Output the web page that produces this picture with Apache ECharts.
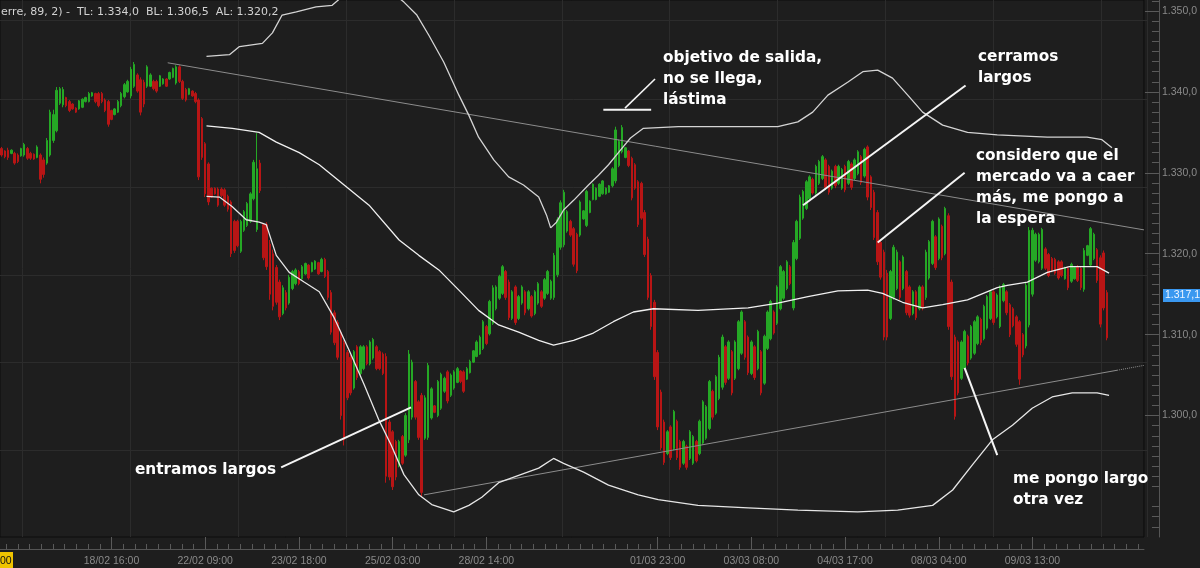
<!DOCTYPE html>
<html><head><meta charset="utf-8">
<script src="https://cdn.jsdelivr.net/npm/echarts@6/dist/echarts.min.js"></script>
<style>html,body{margin:0;padding:0;background:#1e1e1e;}#c{width:1200px;height:568px;}</style>
</head><body><div id="c"></div>
<script>
// Prices are stored in pips above BASE (1 pip = 0.0001)
const BASE = 1.28;
const SLOTS = 354; // bar slots on the time axis (last ones empty)
// [open, close, low, high]
const ohlc = [
[530,522,520,532],[527,520,518,528],[528,519,516,531],[524,528,523,529],[524,512,510,526],[522,514,512,524],[521,530,520,531],[522,535,520,537],[530,518,516,532],[524,518,516,526],
[523,517,516,524],[519,532,518,534],[522,492,487,524],[516,498,494,519],[512,540,510,543],[522,575,520,578],[540,572,537,578],[552,602,550,606],[586,604,584,606],[584,603,581,606],
[593,583,581,594],[588,577,575,590],[585,579,578,586],[580,575,574,581],[579,589,578,590],[581,591,580,592],[588,593,587,594],[588,598,587,600],[595,599,594,600],[598,588,586,599],
[598,583,581,600],[598,588,586,600],[590,577,575,592],[588,560,557,590],[577,566,565,578],[572,579,571,580],[575,588,574,590],[583,598,581,600],[594,609,592,611],[600,613,599,615],
[595,628,592,631],[607,634,605,637],[621,601,599,623],[615,575,571,618],[612,585,581,615],[607,631,605,633],[607,621,606,623],[613,604,602,615],[613,601,599,615],[607,620,606,621],
[610,616,609,617],[616,607,606,617],[616,624,615,625],[618,629,617,630],[611,631,609,633],[631,613,611,633],[613,592,590,615],[603,590,588,605],[597,604,596,605],[601,595,594,602],
[598,588,586,600],[590,495,491,592],[567,519,516,569],[536,474,470,538],[511,464,460,513],[481,470,469,482],[481,474,473,482],[480,460,458,482],[480,472,470,482],[479,460,458,481],
[471,455,452,473],[464,400,396,466],[440,404,401,442],[440,410,408,442],[403,440,401,442],[429,452,427,454],[435,462,433,464],[440,474,438,476],[468,513,466,516],[430,505,427,549],
[512,478,475,516],[436,395,392,438],[436,384,380,439],[412,350,343,417],[400,335,330,405],[383,340,337,386],[365,322,318,368],[326,358,324,361],[352,333,330,355],[339,371,337,374],
[357,378,355,380],[363,380,361,382],[378,363,361,380],[369,384,368,386],[375,388,374,389],[386,370,368,387],[378,389,377,390],[381,391,380,392],[389,375,374,390],[378,393,377,395],
[393,372,370,395],[378,346,343,380],[352,303,300,355],[327,290,287,330],[315,272,269,318],[303,200,195,306],[290,170,163,293],[278,222,219,281],[272,228,225,275],[234,279,232,281],
[285,247,244,287],[252,285,250,287],[258,285,256,287],[285,264,262,287],[264,291,262,293],[271,294,269,296],[285,258,256,287],[279,258,256,281],[276,252,250,278],[273,125,117,277],
[192,124,120,195],[180,112,108,182],[168,124,120,170],[138,168,136,170],[174,141,139,176],[151,200,149,203],[170,276,166,281],[198,266,195,269],[242,198,195,244],[217,173,170,219],
[225,105,99,228],[172,222,170,225],[173,262,170,265],[197,233,195,235],[212,204,203,213],[200,242,198,244],[209,251,207,253],[230,246,228,248],[254,218,215,256],[225,250,223,252],
[234,254,232,256],[241,258,240,260],[255,242,240,256],[254,230,228,256],[245,258,244,260],[253,267,252,269],[266,280,265,281],[273,291,272,293],[276,297,275,299],[283,316,281,318],
[310,289,287,312],[301,341,299,343],[314,358,312,361],[332,359,330,361],[345,372,343,374],[351,384,349,386],[378,346,343,380],[365,321,318,368],[320,353,318,355],[359,315,312,361],
[320,347,318,349],[339,359,337,361],[353,327,324,355],[332,353,330,355],[347,323,321,349],[326,353,324,355],[339,363,337,365],[353,335,333,355],[345,368,343,370],[351,378,349,380],
[345,366,343,368],[346,398,343,401],[374,442,371,445],[408,463,405,466],[411,476,408,479],[428,452,426,454],[440,423,421,442],[431,387,384,433],[424,379,376,426],[423,464,421,466],
[443,453,442,454],[435,477,433,479],[451,465,450,466],[467,486,466,487],[467,481,466,482],[471,486,470,487],[474,490,473,491],[474,481,473,482],[476,484,475,485],[484,505,482,507],
[490,553,487,557],[509,539,507,541],[526,556,524,559],[519,531,518,532],[527,509,507,528],[518,469,466,520],[510,481,479,512],[489,436,433,491],[487,444,442,489],[451,399,396,454],
[418,346,343,421],[373,310,306,376],[340,248,244,343],[278,186,182,281],[229,160,157,232],[192,142,139,195],[153,180,151,182],[186,148,145,188],[159,205,157,207],[193,148,145,195],
[168,136,133,170],[141,168,139,170],[162,136,133,164],[147,180,145,182],[141,174,139,176],[168,144,142,170],[153,193,151,195],[166,217,164,219],[172,211,170,213],[184,242,182,244],
[230,198,195,232],[203,248,201,250],[221,272,219,275],[235,297,232,300],[285,241,238,287],[246,291,244,293],[279,228,225,281],[246,291,244,293],[258,316,256,318],[277,328,275,330],
[316,272,269,318],[297,253,250,299],[252,291,250,293],[285,247,244,287],[258,304,256,306],[279,228,225,281],[240,298,238,300],[283,328,281,330],[295,341,293,343],[328,302,300,330],
[314,359,312,361],[332,384,330,386],[345,378,343,380],[357,390,355,392],[384,363,361,386],[333,414,330,417],[394,440,392,442],[419,470,417,473],[444,477,442,479],[456,489,454,491],
[468,495,466,497],[492,475,473,494],[475,508,473,510],[487,514,485,516],[493,520,491,522],[516,482,479,518],[508,476,473,510],[481,502,479,504],[508,484,481,510],[487,508,485,510],
[481,504,479,506],[508,479,476,510],[487,514,485,516],[511,482,479,513],[493,516,491,518],[499,526,497,528],[520,488,485,522],[496,529,494,531],[532,470,466,534],[495,457,454,497],
[476,420,417,479],[451,390,386,454],[414,371,368,417],[402,297,293,405],[376,297,293,380],[320,378,318,380],[346,408,343,411],[357,402,355,405],[390,346,343,392],[357,396,355,398],
[378,327,324,380],[359,324,321,361],[326,353,324,355],[353,321,318,355],[332,359,330,361],[359,333,330,361],[346,402,343,405],[370,415,368,417],[388,440,386,442],[421,383,380,423],
[394,443,392,445],[434,395,392,436],[400,456,398,458],[447,310,306,450],[365,248,244,368],[297,199,195,300],[291,228,225,293],[246,291,244,293],[258,304,256,306],[298,265,262,300],
[271,310,269,312],[277,316,275,318],[289,322,287,324],[319,290,287,321],[295,335,293,337],[308,347,306,349],[320,353,318,355],[353,315,312,355],[322,349,320,351],[310,358,308,361],
[342,362,340,364],[353,327,324,355],[337,300,297,339],[332,311,309,334],[322,288,285,324],[316,245,238,318],[300,275,272,302],[286,361,283,364],[312,429,309,433],[350,429,347,432],
[392,424,390,426],[390,424,388,426],[382,430,380,432],[406,382,380,408],[399,373,371,401],[394,379,377,396],[393,376,374,395],[390,370,368,392],[390,373,371,392],[369,383,368,384],
[382,358,355,384],[366,387,364,389],[369,383,368,384],[384,367,365,386],[382,358,355,384],[356,404,353,407],[398,410,397,411],[386,431,384,433],[394,424,392,426],[405,367,364,407],
[395,313,309,398],[401,333,330,404],[352,296,293,355]
];
// indicator bands: [bar slot, pips above BASE]
const upperBand = [[63.9,644],[71.0,646],[74.1,656],[81.2,660],[84.3,673],[87.3,695],[91.7,699],[97.8,705],[102.8,707],[106.5,720],[114.2,732],[120.4,726],[125.0,711],[129.0,695],[132.7,670],[137.3,637],[142.0,596],[145.1,571],[148.1,544],[152.8,516],[157.4,495],[162.0,485],[166.7,470],[169.1,448],[170.4,432],[172.2,439],[174.4,454],[177.5,466],[182.1,485],[185.2,497],[188.3,510],[192.0,528],[195.1,543],[199.1,555],[209.9,557],[222.2,557],[240.7,557],[246.9,563],[251.5,575],[256.2,596],[262.3,612],[267.0,625],[271.6,627],[276.2,617],[280.9,596],[285.5,575],[291.7,559],[299.4,550],[308.6,547],[324.1,544],[336.4,544],[341.0,541],[344.1,531]];
const midBand = [[63.9,558],[71.9,555],[80.2,550],[85.5,538],[92.6,525],[98.8,510],[106.5,485],[114.2,460],[123.5,417],[129.6,398],[135.8,380],[142.0,355],[148.1,330],[154.3,312],[160.5,303],[166.7,293],[171.3,287],[177.5,293],[183.6,302],[189.8,316],[196.0,328],[202.2,332],[216.0,330],[231.5,333],[240.7,339],[250.0,347],[259.3,354],[268.5,355],[273.1,351],[279.3,340],[285.5,333],[291.7,337],[299.4,343],[308.6,358],[311.7,361],[317.9,365],[324.1,377],[330.9,384],[339.5,384],[343.2,376]];
const lowBand = [[63.9,471],[67.9,470],[71.9,458],[76.2,442],[80.2,439],[82.4,436],[85.5,398],[89.5,377],[94.1,365],[98.8,353],[103.4,321],[108.0,281],[112.7,238],[117.3,194],[121.0,164],[125.0,127],[129.6,102],[133.6,90],[140.4,81],[145.1,89],[149.1,99],[154.3,117],[160.5,126],[166.7,135],[171.3,147],[174.4,141],[180.6,130],[188.3,114],[197.5,102],[203.7,96],[216.0,89],[231.5,86],[246.9,83],[265.4,81],[277.8,83],[288.6,89],[294.8,108],[300.9,139],[307.1,170],[313.3,188],[319.4,209],[325.6,223],[331.8,228],[339.5,228],[343.2,225]];
// drawn trend lines
const resistance = [[51.9,636],[354,429.5]];
const support = [[131.2,102],[345.7,256]];
const supportExt = [[345.7,256],[354,262]];
// annotation pointer lines
const pointerEntramos = [[87.0,136],[127.2,210]];
const pointerObjetivoBar = [[186.7,578],[201.5,578]];
const pointerObjetivo = [[193.4,580],[202.7,616]];
const pointerCerramos = [[248.5,460],[298.8,608]];
const pointerConsidero = [[271.6,414],[298.5,500]];
const pointerPongo = [[298.5,259],[308.6,151]];
// annotation texts
const noteEntramos = ['entramos largos'];
const noteObjetivo = ['objetivo de salida,','no se llega,','lástima'];
const noteCerramos = ['cerramos','largos'];
const noteConsidero = ['considero que el','mercado va a caer','más, me pongo a','la espera'];
const notePongo = ['me pongo largo','otra vez'];
// axes
const xLabelIdx = [34,63,92,121,150,203,232,261,290,319];
const xLabels = ['18/02 16:00','22/02 09:00','23/02 18:00','25/02 03:00','28/02 14:00','01/03 23:00','03/03 08:00','04/03 17:00','08/03 04:00','09/03 13:00'];
const yTicks = [1.30,1.31,1.32,1.33,1.34,1.35];
const yLabels = ['1.300,0','1.310,0','1.320,0','1.330,0','1.340,0','1.350,0'];
const headerText = 'erre, 89, 2) -  TL: 1.334,0  BL: 1.306,5  AL: 1.320,2';
const lastPriceText = '1.317,1';
const cursorTimeText = '00';

const p = v => +(BASE + v / 10000).toFixed(5);
const UP = '#25a825', DOWN = '#b81515';
const Y_MIN = 1.28499, Y_MAX = 1.35136;

const xMajor = xLabelIdx.map(i => i + 0.5);
const stepX = 29 / 8;
const xMinor = [];
for (let j = 1; xMajor[0] - j * stepX > 0; j++) xMinor.push(xMajor[0] - j * stepX);
xMajor.forEach((m, k) => {
  const next = k + 1 < xMajor.length ? xMajor[k + 1] - 0.5 : SLOTS;
  for (let j = 1; m + j * stepX < next; j++) xMinor.push(m + j * stepX);
});
const yMinor = [];
for (let k = -11; k <= 41; k++) { if (k % 8 !== 0) { const v = 1.30 + k * 0.00125; if (v > Y_MIN && v < Y_MAX) yMinor.push(+v.toFixed(6)); } }

const lbl = { fontFamily: '"Liberation Sans", Arial, sans-serif', fontSize: 10.5, color: '#8a8a8a' };
const noLine = { show: false, onZero: false };

function line(data, color, width, type, z) {
  return { type: 'line', xAxisIndex: 1, yAxisIndex: 0, data: data.map(d => [d[0], p(d[1])]),
    symbol: 'none', silent: true, z: z || 3, animation: false,
    lineStyle: { color: color, width: width, type: type || 'solid' } };
}
const noteFont = 'bold 15.3px "DejaVu Sans", sans-serif';
function note(lines, x, top) {
  return { type: 'text', x: x, y: top, z: 100, silent: true,
    style: { text: lines.join('\n'), font: noteFont, fill: '#ffffff', lineHeight: 21,
      verticalAlign: 'top', align: 'left', shadowColor: 'rgba(0,0,0,0.9)', shadowBlur: 2 } };
}

const chart = echarts.init(document.getElementById('c'), null, { renderer: 'canvas' });
chart.setOption({
  animation: false,
  backgroundColor: '#1e1e1e',
  grid: [
    { left: 0, right: 53, top: 0, bottom: 31, show: true, borderColor: '#0c0c0c', borderWidth: 1, backgroundColor: 'transparent' },
    { left: 0, right: 53, top: 20, bottom: 117.5 },
    { left: 22, right: 53, top: 0, bottom: 31 }
  ],
  xAxis: [
    { type: 'category', gridIndex: 0, data: Array.from({ length: SLOTS }, (_, i) => i), show: false, boundaryGap: true, axisLine: noLine },
    { type: 'value', gridIndex: 0, min: 0, max: SLOTS, position: 'bottom', offset: 12,
      axisLine: { show: true, onZero: false, lineStyle: { color: '#555555' } },
      axisTick: { show: true, inside: true, length: 5, customValues: xMinor, lineStyle: { color: '#5a5a5a' } },
      axisLabel: { show: false }, splitLine: { show: false } },
    { type: 'value', gridIndex: 0, min: 0, max: SLOTS, position: 'bottom', offset: 12,
      axisLine: noLine,
      axisTick: { show: true, inside: true, length: 12, customValues: xMajor, lineStyle: { color: '#5a5a5a' } },
      axisLabel: Object.assign({ show: true, margin: 7, customValues: xMajor,
        formatter: v => { const k = xMajor.findIndex(m => Math.abs(m - v) < 1e-6); return k >= 0 ? xLabels[k] : ''; } }, lbl),
      splitLine: { show: false } },
    { type: 'value', gridIndex: 1, min: 0, max: 1, axisLine: noLine, axisTick: { show: false }, axisLabel: { show: false }, splitLine: { show: false } },
    { type: 'value', gridIndex: 2, min: 0, max: 1125 / 107.95, interval: 1, axisLine: noLine, axisTick: { show: false }, axisLabel: { show: false },
      splitLine: { show: true, lineStyle: { color: '#2c2c2c', width: 1 } } }
  ],
  yAxis: [
    { type: 'value', gridIndex: 0, min: Y_MIN, max: Y_MAX, position: 'right', offset: 15,
      axisLine: { show: true, onZero: false, lineStyle: { color: '#555555' } },
      axisTick: { show: true, inside: true, length: 14, customValues: yTicks, lineStyle: { color: '#5a5a5a' } },
      axisLabel: Object.assign({ show: true, inside: false, margin: 3, customValues: yTicks,
        formatter: v => { const k = yTicks.findIndex(t => Math.abs(t - v) < 1e-6); return k >= 0 ? yLabels[k] : ''; } }, lbl),
      splitLine: { show: false } },
    { type: 'value', gridIndex: 0, min: Y_MIN, max: Y_MAX, position: 'right', offset: 15,
      axisLine: noLine,
      axisTick: { show: true, inside: true, length: 7, customValues: yMinor, lineStyle: { color: '#5a5a5a' } },
      axisLabel: { show: false }, splitLine: { show: false } },
    { type: 'value', gridIndex: 1, min: 0, max: 430.5 / 87.8, interval: 1, axisLine: noLine, axisTick: { show: false }, axisLabel: { show: false },
      splitLine: { show: true, lineStyle: { color: '#2c2c2c', width: 1 } } },
    { type: 'value', gridIndex: 2, min: 0, max: 1, axisLine: noLine, axisTick: { show: false }, axisLabel: { show: false }, splitLine: { show: false } }
  ],
  series: [
    { type: 'candlestick', xAxisIndex: 0, yAxisIndex: 0, data: ohlc.map(r => r.map(p)), barWidth: 2, silent: true, z: 2,
      itemStyle: { color: UP, color0: DOWN, borderColor: UP, borderColor0: DOWN, borderWidth: 1 } },
    line(resistance, '#8c8c8c', 1),
    line(support, '#8c8c8c', 1),
    line(supportExt, '#8c8c8c', 1, 'dotted'),
    line(upperBand, '#d4d4d4', 1.3),
    line(midBand, '#f0f0f0', 1.3),
    line(lowBand, '#e6e6e6', 1.3),
    line(pointerEntramos, '#f4f4f4', 2, 'solid', 5),
    line(pointerObjetivoBar, '#f4f4f4', 2, 'solid', 5),
    line(pointerObjetivo, '#f4f4f4', 1.6, 'solid', 5),
    line(pointerCerramos, '#f4f4f4', 2, 'solid', 5),
    line(pointerConsidero, '#f4f4f4', 2, 'solid', 5),
    line(pointerPongo, '#f4f4f4', 2, 'solid', 5)
  ],
  graphic: [
    { type: 'text', x: 1, y: 12, z: 100, silent: true,
      style: { text: headerText, font: '11px "DejaVu Sans", sans-serif', fill: '#d2d2d2', verticalAlign: 'middle' } },
    note(noteEntramos, 135, 459.5),
    note(noteObjetivo, 663, 47.8),
    note(noteCerramos, 978, 46.5),
    note(noteConsidero, 976, 146),
    note(notePongo, 1013, 468.5),
    { type: 'rect', z: 100, silent: true, shape: { x: 1163, y: 289, width: 37, height: 13 }, style: { fill: '#3a98f0' } },
    { type: 'text', x: 1165, y: 295.5, z: 101, silent: true,
      style: { text: lastPriceText, font: '10.5px "Liberation Sans", Arial, sans-serif', fill: '#eef5ff', verticalAlign: 'middle' } },
    { type: 'rect', z: 100, silent: true, shape: { x: 0, y: 552, width: 13, height: 16 }, style: { fill: '#f0c400' } },
    { type: 'text', x: 0, y: 561, z: 101, silent: true,
      style: { text: cursorTimeText, font: '10.5px "Liberation Sans", Arial, sans-serif', fill: '#111111', verticalAlign: 'middle' } }
  ]
});
</script>
</body></html>
